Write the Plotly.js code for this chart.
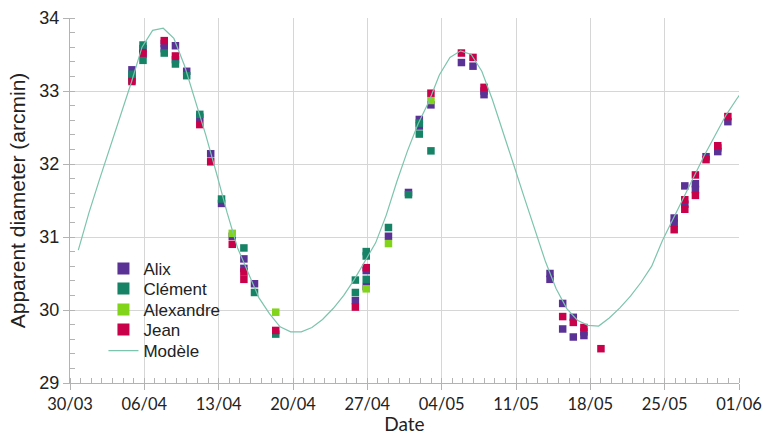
<!DOCTYPE html>
<html>
<head>
<meta charset="utf-8">
<script src="https://cdn.plot.ly/plotly-3.0.1.min.js"></script>
<style>html,body{margin:0;padding:0;background:#fff;}#chart{width:763px;height:435px;}</style>
</head>
<body>
<div id="chart"></div>
<script>
// ---- Data ----
const alixDates = ['2020-04-04 20:00','2020-04-04 20:00','2020-04-05 21:00','2020-04-05 21:00','2020-04-07 21:00','2020-04-07 21:00','2020-04-08 22:20','2020-04-08 22:20','2020-04-09 23:45','2020-04-11 05:20','2020-04-12 06:00','2020-04-13 06:30','2020-04-14 06:45','2020-04-15 09:00','2020-04-15 09:00','2020-04-16 09:00','2020-04-25 21:00','2020-04-26 21:30','2020-04-26 21:30','2020-04-28 23:45','2020-04-30 21:00','2020-05-01 21:30','2020-05-01 21:30','2020-05-02 23:45','2020-05-05 20:40','2020-05-06 22:50','2020-05-07 23:45','2020-05-07 23:45','2020-05-14 04:50','2020-05-14 04:50','2020-05-15 09:30','2020-05-15 09:30','2020-05-16 09:30','2020-05-16 09:30','2020-05-17 09:30','2020-05-17 09:30','2020-05-25 21:30','2020-05-25 21:30','2020-05-26 21:30','2020-05-26 21:30','2020-05-27 21:30','2020-05-27 21:30','2020-05-28 21:30','2020-05-30 00:00','2020-05-30 00:00','2020-05-30 22:50'];
const alixValues = [33.29,33.19,33.58,33.50,33.65,33.58,33.62,33.43,33.27,32.64,32.14,31.46,31.01,30.70,30.57,30.36,30.13,30.54,30.32,31.01,31.61,32.61,32.52,32.81,33.39,33.34,33.00,32.95,30.50,30.42,30.09,29.74,29.90,29.63,29.70,29.65,31.26,31.19,31.70,31.45,31.73,31.65,32.10,32.22,32.17,32.58];

const clementDates = ['2020-04-04 20:00','2020-04-04 20:00','2020-04-05 21:00','2020-04-05 21:00','2020-04-07 21:00','2020-04-08 22:20','2020-04-09 23:45','2020-04-11 05:20','2020-04-13 06:30','2020-04-15 09:00','2020-04-16 09:00','2020-04-18 09:00','2020-04-25 21:00','2020-04-25 21:00','2020-04-26 21:30','2020-04-26 21:30','2020-04-26 21:30','2020-04-28 23:45','2020-04-30 21:00','2020-05-01 21:30','2020-05-01 21:30','2020-05-02 23:45'];
const clementValues = [33.23,33.15,33.63,33.42,33.52,33.37,33.21,32.68,31.52,30.85,30.24,29.67,30.41,30.24,30.80,30.74,30.42,31.13,31.58,32.56,32.41,32.18];

const alexandreDates = ['2020-04-14 06:45','2020-04-18 09:00','2020-04-26 21:30','2020-04-28 23:45','2020-05-02 23:45'];
const alexandreValues = [31.05,29.97,30.29,30.91,32.87];

const jeanDates = ['2020-04-04 20:00','2020-04-05 21:00','2020-04-07 21:00','2020-04-08 22:20','2020-04-11 05:20','2020-04-12 06:00','2020-04-14 06:45','2020-04-15 09:00','2020-04-15 09:00','2020-04-18 09:00','2020-04-25 21:00','2020-04-26 21:30','2020-05-02 23:45','2020-05-05 20:40','2020-05-06 22:50','2020-05-07 23:45','2020-05-15 09:30','2020-05-16 09:30','2020-05-17 09:30','2020-05-19 00:00','2020-05-25 21:30','2020-05-26 21:30','2020-05-26 21:30','2020-05-27 21:30','2020-05-27 21:30','2020-05-28 21:30','2020-05-30 00:00','2020-05-30 22:50'];
const jeanValues = [33.13,33.52,33.69,33.48,32.54,32.03,30.90,30.52,30.42,29.72,30.04,30.58,32.97,33.52,33.46,33.05,29.91,29.83,29.76,29.47,31.10,31.51,31.38,31.85,31.57,32.06,32.25,32.65];

// Model: one value per day starting at modelStart
const modelStart = '2020-03-30 18:45';
const modelStepMs = 86400000;
const modelValues = [30.82,31.33,31.79,32.23,32.67,33.12,33.60,33.83,33.86,33.72,33.35,32.88,32.40,31.88,31.34,30.85,30.50,30.17,29.95,29.77,29.70,29.70,29.76,29.87,30.02,30.20,30.42,30.68,30.92,31.30,31.76,32.18,32.55,32.85,33.22,33.46,33.55,33.50,33.27,32.88,32.42,31.99,31.54,31.10,30.66,30.29,30.02,29.86,29.79,29.78,29.89,30.03,30.19,30.38,30.60,30.95,31.25,31.53,31.85,32.13,32.40,32.67,32.89,33.10];

const seriesNames = ['Alix','Clément','Alexandre','Jean','Modèle'];
const xRange = ['2020-03-30','2020-06-01'];
const yRange = [29, 34];

// ---- Styles ----
const colors = {Alix:'#5a3296', 'Clément':'#168266', Alexandre:'#81d41a', Jean:'#c9004a', 'Modèle':'#7cc4ad'};
const legendIds = ['legend','legend2','legend3','legend4','legend5'];
const legendRowY = [0.3123, 0.2575, 0.2, 0.1452, 0.0877];

const mk = (i, x, y) => ({
  type:'scatter', mode:'markers', name:seriesNames[i], x:x, y:y, legend:legendIds[i],
  marker:{symbol:'square', size:7.5, color:colors[seriesNames[i]], line:{width:0}},
  cliponaxis:false
});

const traces = [
  mk(0, alixDates, alixValues),
  mk(1, clementDates, clementValues),
  mk(2, alexandreDates, alexandreValues),
  mk(3, jeanDates, jeanValues),
  {type:'scatter', mode:'lines', name:seriesNames[4], legend:legendIds[4], x0:modelStart, dx:modelStepMs, y:modelValues,
   line:{color:colors['Modèle'], width:1.2}}
];

const axisCommon = {
  showgrid:true, gridcolor:'#d6d6d6', gridwidth:1,
  showline:true, linecolor:'#b3b3b3', linewidth:1,
  ticks:'outside', ticklen:6, tickcolor:'#b3b3b3',
  zeroline:false
};

const legendFont = {family:'Liberation Sans, Arial, sans-serif', size:17, color:'#222'};

const layout = {
  width:763, height:435,
  margin:{l:70, r:24, t:18, b:52},
  paper_bgcolor:'#ffffff', plot_bgcolor:'#ffffff',
  showlegend:true,
  xaxis:Object.assign({}, axisCommon, {
    type:'date', range:xRange, tick0:'2020-03-30', dtick:604800000, tickformat:'%d/%m',
    ticklabeloverflow:'allow',
    tickfont:{family:'Lato, sans-serif', size:16.5, color:'#222'},
    minor:{dtick:86400000, ticks:'inside', ticklen:5, tickcolor:'#b3b3b3', showgrid:false},
    title:{text:'Date', font:{family:'Lato, sans-serif', size:19, color:'#222'}, standoff:5}
  }),
  yaxis:Object.assign({}, axisCommon, {
    range:yRange, dtick:1, tick0:29,
    tickfont:{family:'Liberation Sans, Arial, sans-serif', size:18, color:'#222'},
    minor:{dtick:0.2, ticks:'inside', ticklen:5, tickcolor:'#b3b3b3', showgrid:false},
    title:{text:'Apparent diameter (arcmin)', font:{family:'Liberation Sans, Arial, sans-serif', size:21, color:'#222'}, standoff:8}
  })
};

legendIds.forEach((id, i) => {
  layout[id] = {x:0.05, y:legendRowY[i], xanchor:'left', yanchor:'middle',
    bgcolor:'rgba(0,0,0,0)', font:legendFont,
    itemsizing: i < 4 ? 'constant' : 'trace'};
});

Plotly.newPlot('chart', traces, layout, {displayModeBar:false, staticPlot:true});
</script>
</body>
</html>
